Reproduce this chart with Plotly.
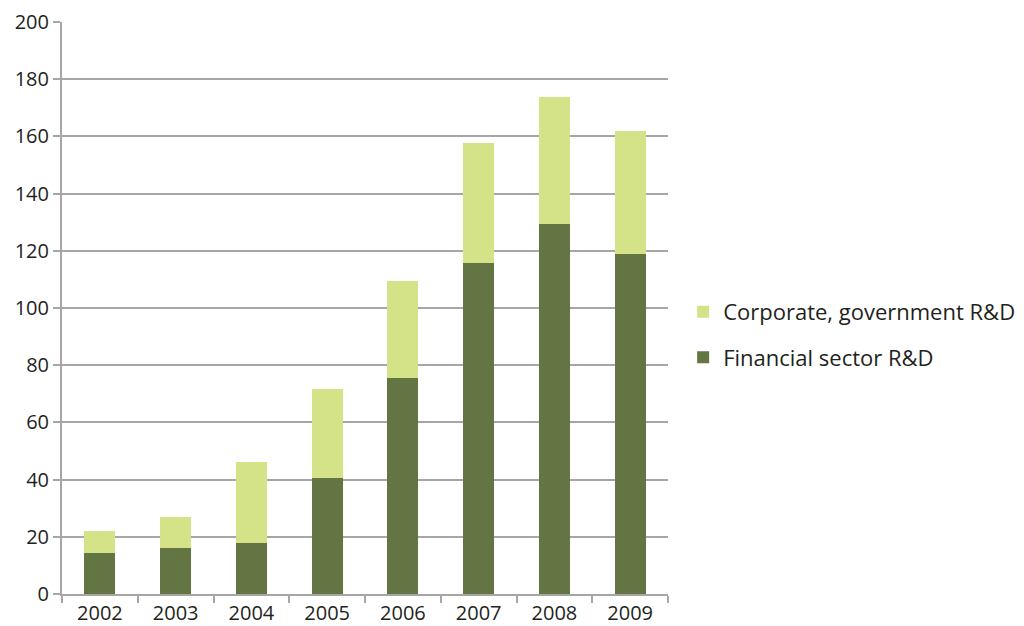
import plotly.graph_objects as go

years = ["2002", "2003", "2004", "2005", "2006", "2007", "2008", "2009"]
financial_rd = [14.3, 16.0, 17.8, 40.6, 75.6, 115.6, 129.4, 118.9]
totals = [21.9, 26.9, 46.3, 71.7, 109.3, 157.6, 173.8, 161.8]
corporate_rd = [round(t - f, 1) for t, f in zip(totals, financial_rd)]

dark = "#647544"
light = "#d4e288"
grid = "#a6a6a6"
font_family = "Open Sans, Liberation Sans, sans-serif"

fig = go.Figure()
fig.add_trace(go.Bar(x=years, y=financial_rd, name="Financial sector R&D",
                     legendgroup="fin", legendrank=2,
                     marker=dict(color=dark, line=dict(width=0))))
fig.add_trace(go.Bar(x=years, y=corporate_rd, name="Corporate, government R&D",
                     legendgroup="corp", legendrank=1,
                     marker=dict(color=light, line=dict(width=0))))

fig.update_layout(
    barmode="stack",
    bargap=0.59,
    width=1024, height=626,
    margin=dict(l=62, r=356, t=22, b=32, autoexpand=False),
    paper_bgcolor="white", plot_bgcolor="white",
    font=dict(family=font_family, size=20, color="#231f20"),
    legend=dict(traceorder="grouped", x=1.025, y=0.453,
                xanchor="left", yanchor="middle",
                font=dict(size=22), itemwidth=30, tracegroupgap=14),
    xaxis=dict(showline=True, linecolor=grid, linewidth=2, automargin=False,
               ticks="outside", tickson="boundaries", ticklen=7, tickwidth=2, tickcolor=grid,
               showgrid=False, tickfont=dict(size=20)),
    yaxis=dict(range=[0, 200], dtick=20, showline=True, linecolor=grid, linewidth=2,
               automargin=False,
               ticks="outside", ticklen=7, tickwidth=2, tickcolor=grid,
               showgrid=True, gridcolor=grid, gridwidth=2, zeroline=False,
               tickfont=dict(size=20)),
)

fig.write_html("out.html")
